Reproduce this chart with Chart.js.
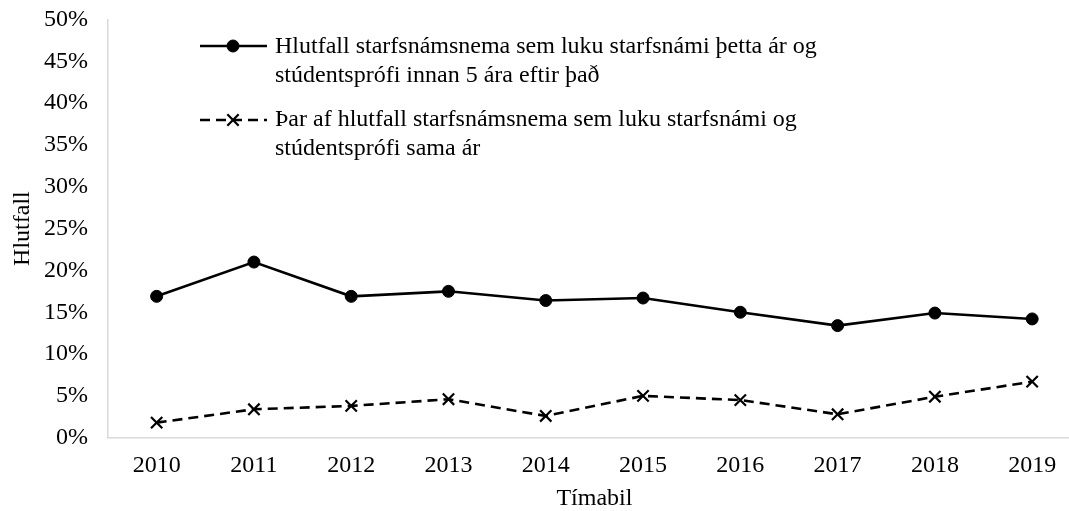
<!DOCTYPE html>
<html>
<head>
<meta charset="utf-8">
<script src="https://cdn.jsdelivr.net/npm/chart.js@4"></script>
<style>
  html, body { margin: 0; padding: 0; background: #fff; overflow: hidden; }
  #wrap { position: relative; width: 1091px; height: 511px; }
  canvas { display: block; }
</style>
</head>
<body>
<div id="wrap"><canvas id="c" width="1091" height="511"></canvas></div>
<script>
const years = ['2010','2011','2012','2013','2014','2015','2016','2017','2018','2019'];
const seriesWithin5 = [16.9, 21.0, 16.9, 17.5, 16.4, 16.7, 15.0, 13.4, 14.9, 14.2];
const seriesSameYear = [1.8, 3.4, 3.8, 4.6, 2.6, 5.0, 4.5, 2.8, 4.9, 6.7];
const seriesNames = [
  ['Hlutfall starfsnámsnema sem luku starfsnámi þetta ár og', 'stúdentsprófi innan 5 ára eftir það'],
  ['Þar af hlutfall starfsnámsnema sem luku starfsnámi og', 'stúdentsprófi sama ár']
];
const yTickMax = 50;
const yTickStep = 5;
const yTitle = 'Hlutfall';
const xTitle = 'Tímabil';

const FONT = "'Liberation Serif', 'Times New Roman', serif";
Chart.defaults.font.family = FONT;
Chart.defaults.color = '#000';

const legendPlugin = {
  id: 'inlineLegend',
  afterDatasetsDraw(chart) {
    const ctx = chart.ctx;
    const rows = [
      { lineY: 46, textY: [47, 76] },
      { lineY: 120, textY: [120, 149] }
    ];
    chart.data.datasets.forEach((ds, i) => {
      const r = rows[i];
      ctx.save();
      ctx.strokeStyle = ds.borderColor;
      ctx.fillStyle = ds.pointBackgroundColor;
      ctx.lineWidth = ds.borderWidth;
      ctx.setLineDash(ds.borderDash || []);
      ctx.beginPath();
      ctx.moveTo(200, r.lineY);
      ctx.lineTo(267, r.lineY);
      ctx.stroke();
      ctx.setLineDash([]);
      ctx.lineWidth = ds.pointBorderWidth;
      Chart.helpers.drawPoint(ctx, {
        pointStyle: ds.pointStyle,
        radius: ds.pointRadius,
        borderWidth: ds.pointBorderWidth,
        rotation: 0
      }, 233, r.lineY);
      ctx.restore();
      ctx.save();
      ctx.fillStyle = '#000';
      ctx.font = '24px ' + FONT;
      ctx.textBaseline = 'middle';
      ctx.textAlign = 'left';
      seriesNames[i].forEach((t, k) => ctx.fillText(t, 275, r.textY[k]));
      ctx.restore();
    });
  }
};

new Chart(document.getElementById('c'), {
  type: 'line',
  data: {
    labels: years,
    datasets: [
      {
        label: seriesNames[0].join(' '),
        data: seriesWithin5,
        borderColor: '#000',
        backgroundColor: '#000',
        borderWidth: 2.6,
        pointStyle: 'circle',
        pointRadius: 6,
        pointBackgroundColor: '#000',
        pointBorderColor: '#000',
        pointBorderWidth: 1,
        tension: 0
      },
      {
        label: seriesNames[1].join(' '),
        data: seriesSameYear,
        borderColor: '#000',
        backgroundColor: '#000',
        borderWidth: 2.6,
        borderDash: [10, 6],
        pointStyle: 'crossRot',
        pointRadius: 8,
        pointBorderColor: '#000',
        pointBackgroundColor: '#000',
        pointBorderWidth: 2.2,
        tension: 0
      }
    ]
  },
  options: {
    responsive: false,
    maintainAspectRatio: false,
    animation: false,
    devicePixelRatio: 1,
    layout: { padding: { top: 19.5, right: 0, left: 0, bottom: 0 } },
    plugins: {
      legend: { display: false },
      tooltip: { enabled: false }
    },
    scales: {
      x: {
        offset: true,
        grid: { display: false, drawTicks: false },
        border: { display: true, color: '#d9d9d9', width: 1.5 },
        ticks: { font: { size: 24 }, padding: 14, maxRotation: 0, autoSkip: false },
        title: { display: true, text: xTitle, font: { size: 24, lineHeight: 1 }, padding: { top: 0, bottom: 0 } },
        afterFit(scale) { scale.height = 73.3; scale.paddingLeft = 0; scale.paddingRight = 0; }
      },
      y: {
        min: 0,
        max: yTickMax,
        grid: { display: false, drawTicks: false },
        border: { display: true, color: '#d9d9d9', width: 1.5 },
        ticks: {
          stepSize: yTickStep,
          font: { size: 24 },
          padding: 20,
          callback: v => v + '%'
        },
        title: { display: true, text: yTitle, font: { size: 24, lineHeight: 1 }, padding: { top: 11, bottom: 11 } },
        afterFit(scale) { scale.width = 108; scale.paddingTop = 0; scale.paddingBottom = 0; }
      }
    }
  },
  plugins: [legendPlugin]
});
</script>
</body>
</html>
